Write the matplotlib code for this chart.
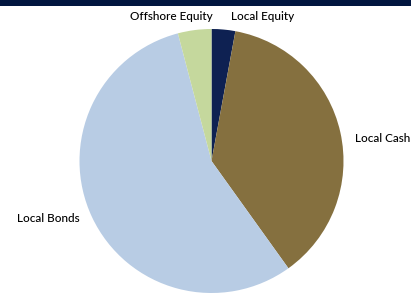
import matplotlib
matplotlib.use("Agg")
import matplotlib.pyplot as plt
from matplotlib.patches import Rectangle

labels = ["Local Equity", "Local Cash", "Local Bonds", "Offshore Equity"]
values = [2.9, 37.2, 55.8, 4.1]
colors = ["#0E2152", "#85703F", "#B8CCE4", "#C5D89D"]

W, H = 411, 293
fig = plt.figure(figsize=(W / 100, H / 100), dpi=100)
fig.patch.set_facecolor("white")

# top banner
fig.add_artist(Rectangle((0, 1 - 6 / H), 1, 6 / H, transform=fig.transFigure,
                         facecolor="#021640", edgecolor="none"))

cx, cy, r = 211.5, 161.0, 132.0
ax = fig.add_axes([(cx - r) / W, (H - cy - r) / H, 2 * r / W, 2 * r / H])
ax.pie(values, colors=colors, startangle=90, counterclock=False,
       wedgeprops=dict(linewidth=0))
ax.set_xlim(-1, 1)
ax.set_ylim(-1, 1)
ax.set_aspect("equal")
ax.axis("off")

def px(x, y):
    return (x - cx) / r, (cy - y) / r

font = dict(family="Lato", size=8.5, color="#000000", weight="medium")
label_pos = {
    "Offshore Equity": (171, 17, "center"),
    "Local Equity": (263, 17, "center"),
    "Local Cash": (355, 139, "left"),
    "Local Bonds": (17, 219, "left"),
}
for name in labels:
    x, y, ha = label_pos[name]
    dx, dy = px(x, y)
    ax.text(dx, dy, name, ha=ha, va="center", clip_on=False, **font)

fig.savefig("out.png", dpi=100)
